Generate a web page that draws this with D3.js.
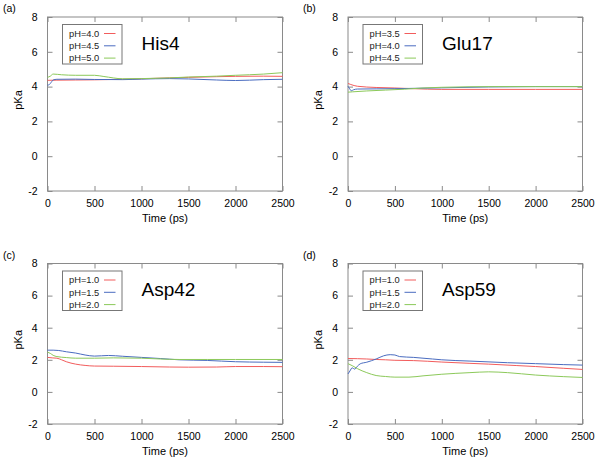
<!DOCTYPE html>
<html><head><meta charset="utf-8">
<script src="https://cdn.jsdelivr.net/npm/d3@7"></script>
<style>body{margin:0;background:#fff;} svg{font-family:"Liberation Sans",Arial,sans-serif;font-weight:normal;}</style>
</head><body>
<svg id="c" width="601" height="462"></svg>
<script>
// ---- data ----
const panelLabels = ["(a)", "(b)", "(c)", "(d)"];
const residues = ["His4", "Glu17", "Asp42", "Asp59"];
const legendLabels = [
  ["pH=4.0", "pH=4.5", "pH=5.0"],
  ["pH=3.5", "pH=4.0", "pH=4.5"],
  ["pH=1.0", "pH=1.5", "pH=2.0"],
  ["pH=1.0", "pH=1.5", "pH=2.0"]
];
const xTicks = [0, 500, 1000, 1500, 2000, 2500];
const yTicks = [-2, 0, 2, 4, 6, 8];

// time (ps) and pKa values per series
const hisT_red   = [0, 100, 300, 500, 800, 1000, 1300, 1500, 1800, 2000, 2300, 2500];
const hisV_red   = [4.36, 4.37, 4.38, 4.39, 4.42, 4.45, 4.5, 4.53, 4.57, 4.59, 4.6, 4.59];
const hisT_blue  = [0, 20, 40, 60, 100, 300, 500, 800, 1000, 1300, 1500, 1800, 2000, 2300, 2500];
const hisV_blue  = [4.08, 4.12, 4.25, 4.38, 4.42, 4.43, 4.41, 4.4, 4.43, 4.46, 4.44, 4.38, 4.35, 4.4, 4.42];
const hisT_green = [0, 30, 60, 150, 300, 500, 600, 800, 1000, 1300, 1500, 1800, 2000, 2300, 2500];
const hisV_green = [4.53, 4.6, 4.72, 4.68, 4.65, 4.65, 4.58, 4.45, 4.46, 4.5, 4.55, 4.6, 4.65, 4.72, 4.8];

const gluT_red   = [0, 30, 100, 300, 500, 700, 1000, 1500, 2000, 2500];
const gluV_red   = [4.18, 4.12, 4.02, 3.95, 3.92, 3.88, 3.84, 3.84, 3.84, 3.84];
const gluT_blue  = [0, 15, 35, 60, 100, 300, 500, 700, 1000, 1500, 2000, 2500];
const gluV_blue  = [4.02, 3.9, 3.76, 3.82, 3.86, 3.87, 3.88, 3.9, 3.93, 3.98, 4.0, 4.0];
const gluT_green = [0, 50, 200, 400, 600, 800, 1000, 1300, 1600, 2000, 2500];
const gluV_green = [3.68, 3.7, 3.75, 3.8, 3.85, 3.92, 3.96, 3.99, 4.0, 4.0, 4.0];

const a42T_red   = [0, 50, 100, 150, 200, 300, 400, 500, 700, 1000, 1300, 1500, 1800, 2000, 2300, 2500];
const a42V_red   = [2.15, 2.12, 2.1, 2.0, 1.88, 1.73, 1.65, 1.61, 1.6, 1.58, 1.55, 1.54, 1.55, 1.58, 1.58, 1.57];
const a42T_blue  = [0, 60, 120, 200, 300, 400, 500, 650, 800, 1000, 1200, 1400, 1700, 2000, 2300, 2500];
const a42V_blue  = [2.6, 2.6, 2.58, 2.5, 2.42, 2.3, 2.23, 2.27, 2.22, 2.15, 2.08, 2.0, 1.96, 1.88, 1.85, 1.84];
const a42T_green = [0, 30, 60, 100, 200, 300, 500, 700, 1000, 1200, 1400, 1700, 2000, 2500];
const a42V_green = [2.48, 2.4, 2.28, 2.2, 2.14, 2.1, 2.1, 2.12, 2.1, 2.05, 2.02, 2.02, 2.02, 2.02];

const a59T_red   = [0, 100, 200, 300, 400, 500, 700, 1000, 1300, 1500, 1800, 2000, 2300, 2500];
const a59V_red   = [2.08, 2.07, 2.05, 2.02, 2.0, 1.97, 1.95, 1.86, 1.78, 1.73, 1.64, 1.58, 1.47, 1.4];
const a59T_blue  = [0, 20, 45, 70, 100, 130, 200, 300, 380, 450, 500, 550, 700, 900, 1000, 1300, 1700, 2000, 2300, 2500];
const a59V_blue  = [1.12, 1.3, 1.5, 1.42, 1.6, 1.75, 1.85, 2.05, 2.25, 2.32, 2.3, 2.2, 2.15, 2.05, 2.0, 1.92, 1.82, 1.76, 1.7, 1.67];
const a59T_green = [0, 50, 100, 200, 300, 400, 500, 650, 800, 1000, 1300, 1500, 1700, 2000, 2300, 2500];
const a59V_green = [1.76, 1.62, 1.45, 1.2, 1.02, 0.96, 0.92, 0.92, 1.0, 1.1, 1.2, 1.25, 1.2, 1.05, 0.95, 0.9];

const seriesT = [
  [hisT_red, hisT_blue, hisT_green],
  [gluT_red, gluT_blue, gluT_green],
  [a42T_red, a42T_blue, a42T_green],
  [a59T_red, a59T_blue, a59T_green]
];
const seriesV = [
  [hisV_red, hisV_blue, hisV_green],
  [gluV_red, gluV_blue, gluV_green],
  [a42V_red, a42V_blue, a42V_green],
  [a59V_red, a59V_blue, a59V_green]
];
const colors = ["#f25c5c", "#4a6cc0", "#8cc95a"];

// ---- layout ----
const boxes = [
  {x0: 47.5, x1: 282.5, y0: 17, y1: 191, lx: 3, ly: 12},
  {x0: 348, x1: 582.5, y0: 17, y1: 191, lx: 303, ly: 12},
  {x0: 47.5, x1: 282.5, y0: 263.5, y1: 424, lx: 3, ly: 259},
  {x0: 348, x1: 582.5, y0: 263.5, y1: 424, lx: 303, ly: 259}
];

const svg = d3.select("#c");
const axisColor = "#8a8a8a";
const fmt = d => String(d);

boxes.forEach((b, i) => {
  const x = d3.scaleLinear().domain([0, 2500]).range([b.x0, b.x1]);
  const y = d3.scaleLinear().domain([-2, 8]).range([b.y1, b.y0]);
  const g = svg.append("g");

  // frame
  g.append("rect").attr("x", b.x0).attr("y", b.y0)
    .attr("width", b.x1 - b.x0).attr("height", b.y1 - b.y0)
    .attr("fill", "none").attr("stroke", axisColor).attr("stroke-width", 1);

  // axes with inward ticks
  const mk = (axis, tr, labels) => {
    const a = g.append("g").attr("transform", tr).call(axis);
    a.select(".domain").remove();
    a.selectAll(".tick line").attr("stroke", axisColor);
    a.selectAll(".tick text").attr("fill", "#000").attr("font-size", 10.5)
      .attr("font-family", "Liberation Sans, Arial, sans-serif");
    if (!labels) a.selectAll(".tick text").remove();
    return a;
  };
  mk(d3.axisBottom(x).tickValues(xTicks).tickSize(-5).tickPadding(9).tickFormat(fmt),
     `translate(0,${b.y1})`, true);
  mk(d3.axisTop(x).tickValues(xTicks).tickSize(-5), `translate(0,${b.y0})`, false);
  mk(d3.axisLeft(y).tickValues(yTicks).tickSize(-5).tickPadding(10).tickFormat(fmt),
     `translate(${b.x0},0)`, true);
  mk(d3.axisRight(y).tickValues(yTicks).tickSize(-5), `translate(${b.x1},0)`, false);

  // lines
  const line = d3.line().x(d => x(d[0])).y(d => y(d[1])).curve(d3.curveMonotoneX);
  seriesT[i].forEach((ts, s) => {
    const pts = ts.map((t, k) => [t, seriesV[i][s][k]]);
    g.append("path").attr("d", line(pts)).attr("fill", "none")
      .attr("stroke", colors[s]).attr("stroke-width", 1);
  });

  // legend
  const lgx = b.x0 + 15, lgy = b.y0 + 7.5;
  g.append("rect").attr("x", lgx).attr("y", lgy).attr("width", 59.5).attr("height", 39.5)
    .attr("fill", "#fff").attr("stroke", "#777").attr("stroke-width", 1);
  legendLabels[i].forEach((lab, s) => {
    const cy = lgy + 9 + s * 12.3;
    g.append("text").attr("x", lgx + 6.5).attr("y", cy + 3.3).attr("font-size", 9.3)
      .attr("fill", "#222").text(lab);
    g.append("line").attr("x1", lgx + 41.5).attr("x2", lgx + 53).attr("y1", cy).attr("y2", cy)
      .attr("stroke", colors[s]).attr("stroke-width", 1);
  });

  // residue title
  g.append("text").attr("x", b.x0 + 94).attr("y", b.y0 + 32.5).attr("font-size", 19)
    .attr("fill", "#000").text(residues[i]);

  // axis titles
  g.append("text").attr("x", (b.x0 + b.x1) / 2).attr("y", b.y1 + 31).attr("text-anchor", "middle")
    .attr("font-size", 11).attr("fill", "#000").text("Time (ps)");
  g.append("text").attr("transform", `translate(${b.x0 - 26},${(b.y0 + b.y1) / 2 - 4}) rotate(-90)`)
    .attr("text-anchor", "middle").attr("font-size", 11).attr("fill", "#000").text("pKa");

  // panel label
  svg.append("text").attr("x", b.lx).attr("y", b.ly).attr("font-size", 10.5)
    .attr("fill", "#000").text(panelLabels[i]);
});
</script>
</body></html>
